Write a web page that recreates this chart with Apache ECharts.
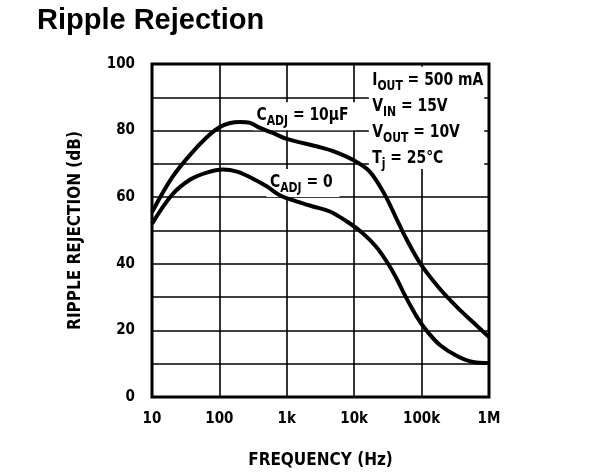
<!DOCTYPE html>
<html>
  <head>
    <meta charset="utf-8" />
    <title>Ripple Rejection</title>
    <script src="https://cdn.jsdelivr.net/npm/echarts@6/dist/echarts.min.js"></script>
    <style>
      body { margin: 0; background: #fff; }
      #chart { width: 600px; height: 474px; }
    </style>
  </head>
  <body>
    <div id="chart"></div>
    <script type="text/javascript">
      // values (Hz, dB)
      var freqUpper = [10, 20, 37, 65, 100, 145, 200, 285, 400, 620, 1000, 3100, 5200, 10000, 17000, 28000, 43000, 60000, 100000, 186000, 335000, 577000, 1000000];
      var rrUpper = [55.5, 66, 72.8, 78, 81, 82.3, 82.6, 82.3, 80.8, 79.3, 77.5, 75, 73.6, 71, 67.7, 61, 53.3, 47.3, 39.5, 32.5, 27, 22.5, 18];
      var freqLower = [10, 20, 37, 65, 113, 183, 285, 510, 800, 1420, 2450, 4360, 7800, 13000, 21000, 31700, 43200, 56700, 85500, 120000, 187000, 335000, 580000, 1000000];
      var rrLower = [52, 60.8, 65.3, 67.4, 68.3, 67.7, 66, 63.2, 60.5, 58.7, 57.2, 55.7, 52.7, 49.4, 45.2, 40.1, 35.3, 30.5, 24, 19.8, 15.6, 12.3, 10.5, 10.2];
      var freqLabels = { 10: '10', 100: '100', 1000: '1k', 10000: '10k', 100000: '100k', 1000000: '1M' };

      // annotation anchors in data units [Hz, dB]
      var condBoxTopLeft = [16500, 99.2];
      var condBoxBottomRight = [850000, 68.5];
      var condTextAnchor = [18500, 99];
      var cAdj10Anchor = [315, 88.5];
      var cAdj0Anchor = [500, 68.5];

      var FONT = '"Liberation Sans Narrow", "DejaVu Sans Condensed", "Liberation Sans", sans-serif';

      function pairs(xs, ys) {
        return xs.map(function (x, i) { return [x, ys[i]]; });
      }

      var chart = echarts.init(document.getElementById('chart'));
      chart.setOption({
        animation: false,
        title: {
          text: 'Ripple Rejection',
          left: 37, top: 6, padding: 0,
          textStyle: { fontFamily: '"Liberation Sans", Arial, sans-serif', fontWeight: 'bold', fontSize: 29, color: '#000' }
        },
        grid: {
          left: 152, right: 111, top: 64, bottom: 76,
          show: true, borderColor: '#000', borderWidth: 3, backgroundColor: '#fff'
        },
        xAxis: {
          type: 'log', logBase: 10, min: 10, max: 1000000,
          name: 'FREQUENCY (Hz)', nameLocation: 'middle', nameGap: 55,
          nameTextStyle: { fontFamily: FONT, fontWeight: 'bold', fontSize: 17, color: '#000' },
          axisLine: { show: false }, axisTick: { show: false },
          axisLabel: {
            margin: 15, fontFamily: FONT, fontWeight: 'bold', fontSize: 15, color: '#000',
            formatter: function (v) { return freqLabels[Math.round(v)] || ''; }
          },
          splitLine: { show: true, lineStyle: { color: '#000', width: 1.6 } },
          minorTick: { show: false }
        },
        yAxis: {
          type: 'value', min: 0, max: 100, interval: 10,
          name: 'RIPPLE REJECTION (dB)', nameLocation: 'middle', nameGap: 68,
          nameTextStyle: { fontFamily: FONT, fontWeight: 'bold', fontSize: 17, color: '#000' },
          axisLine: { show: false }, axisTick: { show: false },
          axisLabel: {
            margin: 17, fontFamily: FONT, fontWeight: 'bold', fontSize: 15, color: '#000',
            formatter: function (v) { return v % 20 === 0 ? String(v) : ''; }
          },
          splitLine: { show: true, lineStyle: { color: '#000', width: 1.6 } }
        },
        series: [
          {
            name: 'CADJ = 10uF', type: 'line', data: pairs(freqUpper, rrUpper),
            smooth: 0.35, symbol: 'none', z: 3,
            lineStyle: { color: '#000', width: 4 }
          },
          {
            name: 'CADJ = 0', type: 'line', data: pairs(freqLower, rrLower),
            smooth: 0.35, symbol: 'none', z: 3,
            lineStyle: { color: '#000', width: 4 }
          }
        ]
      });

      var sub = { fontFamily: FONT, fontWeight: 'bold', fontSize: 14, lineHeight: 14, verticalAlign: 'bottom', fill: '#000' };
      function px(p) { return chart.convertToPixel({ xAxisIndex: 0, yAxisIndex: 0 }, p); }
      function label(anchor, text, bg, pad) {
        var p = px(anchor);
        return {
          type: 'text', x: p[0], y: p[1], z: 1, scaleX: 0.86,
          style: {
            text: text,
            fontFamily: FONT, fontWeight: 'bold', fontSize: 18, lineHeight: 26,
            fill: '#000', backgroundColor: bg, padding: pad,
            rich: { s: sub }
          }
        };
      }

      var b0 = px(condBoxTopLeft), b1 = px(condBoxBottomRight);
      chart.setOption({
        graphic: [
          {
            type: 'rect', z: 1,
            shape: { x: b0[0], y: b0[1], width: b1[0] - b0[0], height: b1[1] - b0[1] },
            style: { fill: '#fff' }
          },
          label(condTextAnchor,
            'I{s|OUT} = 500 mA\nV{s|IN} = 15V\nV{s|OUT} = 10V\nT{s|j} = 25°C', null, 0),
          label(cAdj10Anchor, 'C{s|ADJ} = 10µF', '#fff', [0, 8, 2, 4]),
          label(cAdj0Anchor, 'C{s|ADJ} = 0', '#fff', [0, 8, 2, 4])
        ]
      });
    </script>
  </body>
</html>
